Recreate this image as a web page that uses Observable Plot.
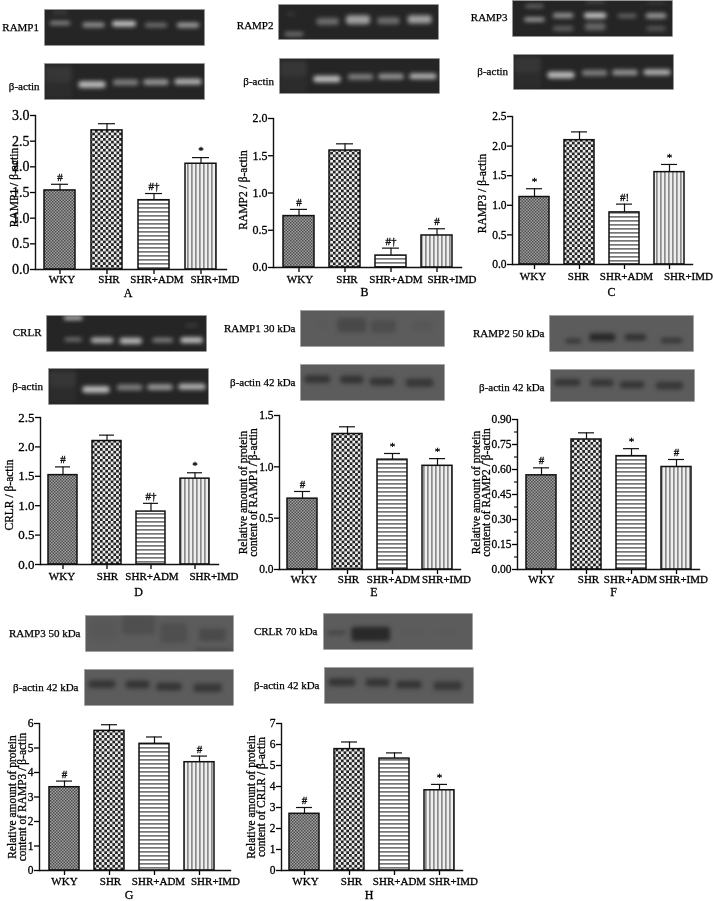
<!DOCTYPE html>
<html><head><meta charset="utf-8">
<script src="https://cdn.jsdelivr.net/npm/d3@7"></script>
<script src="https://cdn.jsdelivr.net/npm/@observablehq/plot@0.6"></script>
<style>
html,body{margin:0;background:#fff}
#page{position:relative;width:714px;height:901px;overflow:hidden;filter:blur(.4px)}
#page svg.chart,#page svg.blot{position:absolute;overflow:visible;background:none;pointer-events:none}
svg.blot g[aria-label="rect"]{filter:blur(2px)}
svg.blot g[aria-label="text"] text{stroke:#000;stroke-width:.25px}
svg.chart g[aria-label="text"] text,svg.chart g[aria-label="y-axis tick label"] text{stroke:#000;stroke-width:.3px}
</style></head><body>
<svg width="0" height="0" style="position:absolute"><defs>
<pattern id="wky" width="3" height="3" patternUnits="userSpaceOnUse"><rect width="3" height="3" fill="#a2a2a2"/><rect width="1.5" height="1.5" fill="#4c4c4c"/><rect x="1.5" y="1.5" width="1.5" height="1.5" fill="#4c4c4c"/></pattern>
<pattern id="shr" width="5.4" height="5.4" patternUnits="userSpaceOnUse"><rect width="5.4" height="5.4" fill="#eee"/><rect width="2.7" height="2.7" fill="#222"/><rect x="2.7" y="2.7" width="2.7" height="2.7" fill="#222"/></pattern>
<pattern id="adm" width="4" height="4" patternUnits="userSpaceOnUse"><rect width="4" height="4" fill="#fff"/><rect width="4" height="1.7" fill="#777"/></pattern>
<pattern id="imd" width="4" height="4" patternUnits="userSpaceOnUse"><rect width="4" height="4" fill="#eee"/><rect width="1.7" height="4" fill="#8c8c8c"/></pattern>
</defs></svg>
<div id="page"></div>
<script>
// ---------- data ----------
const groups = ["WKY","SHR","SHR+ADM","SHR+IMD"];
const fills = ["url(#wky)","url(#shr)","url(#adm)","url(#imd)"];

const valuesA = [1.54,2.71,1.35,2.06], errA = [1.66,2.84,1.48,2.18], marksA = ["#","","#†","*"];
const valuesB = [0.69,1.57,0.16,0.43], errB = [0.78,1.66,0.26,0.52], marksB = ["#","","#†","#"];
const valuesC = [1.14,2.10,0.88,1.56], errC = [1.28,2.24,1.02,1.69], marksC = ["*","","#!","*"];
const valuesD = [1.52,2.10,0.90,1.46], errD = [1.66,2.20,1.04,1.56], marksD = ["#","","#†","*"];
const valuesE = [0.69,1.32,1.07,1.01], errE = [0.76,1.39,1.13,1.08], marksE = ["#","","*","*"];
const valuesF = [0.565,0.78,0.68,0.615], errF = [0.61,0.82,0.725,0.66], marksF = ["#","","*","#"];
const valuesG = [3.40,5.70,5.17,4.42], errG = [3.65,5.95,5.45,4.67], marksG = ["#","","","#"];
const valuesH = [2.70,5.78,5.33,3.82], errH = [3.00,6.12,5.60,4.10], marksH = ["#","","","*"];

const ticksA = [0,0.5,1,1.5,2,2.5,3];
const ticksB = [0,0.5,1,1.5,2];
const ticksC = [0,0.5,1,1.5,2,2.5];
const ticksD = [0,0.5,1,1.5,2,2.5];
const ticksE = [0,0.5,1,1.5];
const ticksF = [0,0.15,0.30,0.45,0.60,0.75,0.90];
const minorF = [0.075,0.225,0.375,0.525,0.675,0.825];
const ticksG = [0,1,2,3,4,5,6];
const ticksH = [0,1,2,3,4,5,6,7];

// gel / blot bands: [lane centre, height, width, thickness, strength], fractions of the strip
const ramp1Gel = [[.10,.10,.10,.06,.25],[.10,.39,.13,.10,.7],[.31,.44,.14,.13,.7],[.50,.41,.15,.15,1],[.70,.45,.14,.12,.5],[.90,.45,.14,.13,.8]];
const ramp2Gel = [[.08,.28,.06,.08,.2],[.10,.86,.12,.12,.55],[.31,.50,.14,.20,.5],[.50,.45,.15,.26,.85],[.69,.48,.14,.20,.5],[.885,.44,.15,.24,.85]];
const ramp3Gel = [[.14,.17,.12,.07,.55],[.14,.54,.13,.10,.9],[.32,.43,.13,.12,.75],[.32,.79,.13,.14,.35],[.52,.43,.14,.15,1],[.52,.74,.13,.20,.4],[.52,.05,.13,.08,.25],[.72,.44,.12,.10,.45],[.90,.44,.13,.14,.75],[.90,.79,.12,.14,.3],[.90,.07,.12,.06,.2]];
const crlrGel = [[.17,.08,.12,.10,1],[.17,.68,.11,.10,.55],[.35,.70,.14,.15,.85],[.53,.72,.14,.17,.9],[.73,.70,.13,.12,.6],[.91,.70,.14,.16,.95],[.91,.29,.08,.07,.2]];
const actinGel = [[.09,.30,.17,.45,.12],[.09,.75,.17,.45,.05],[.30,.60,.17,.18,1],[.51,.54,.16,.16,.6],[.70,.53,.16,.16,.75],[.90,.52,.17,.16,.95]];
const ramp1Blot = [[.16,.42,.05,.10,.1],[.36,.42,.20,.40,.4],[.58,.46,.17,.35,.3],[.85,.45,.14,.25,.1]];
const ramp2Blot = [[.17,.72,.11,.14,.7],[.37,.62,.18,.22,1],[.60,.62,.15,.18,.85],[.85,.71,.15,.14,.75]];
const ramp3Blot = [[.12,.40,.20,.50,.1],[.36,.27,.22,.55,.3],[.60,.50,.18,.55,.3],[.86,.55,.18,.35,.4],[.87,.98,.26,.04,1]];
const crlrBlot = [[.09,.55,.13,.08,.6],[.32,.58,.26,.40,1],[.60,.52,.12,.05,.1],[.83,.52,.14,.05,.08]];
const actinBlot = [[.12,.42,.18,.22,.8],[.36,.43,.16,.22,.8],[.57,.49,.17,.22,.8],[.83,.52,.19,.24,.75]];

// ---------- layout ----------
const charts = [
 {v:valuesA,e:errA,m:marksA,t:ticksA,fmt:".1f",ax:35,end:226,bar:[35,226],top:115,bot:269,ts:14,lab:["RAMP1 / β-actin"],ldx:-21,ldy:-5,xdy:5.5,xdx:[2,2,3,14],let:"A",ldX:-3,letY:19},
 {v:valuesB,e:errB,m:marksB,t:ticksB,fmt:".1f",ax:273,end:461,bar:[275,460],top:118,bot:267,ts:12,lab:["RAMP2 / β-actin"],ldx:-30,ldy:-3,xdy:8,xdx:[1,2,5,15],let:"B",ldX:-3,letY:20},
 {v:valuesC,e:errC,m:marksC,t:ticksC,fmt:".1f",ax:512,end:692,bar:[512,692],top:116,bot:264,ts:11.5,lab:["RAMP3 / β-actin"],ldx:-30,ldy:3,xdy:7.5,xdx:[-1.5,-1,2,19],let:"C",ldX:9,letY:23},
 {v:valuesD,e:errD,m:marksD,t:ticksD,fmt:".1f",ax:40,end:218,bar:[40,217],top:417,bot:564,ts:13,lab:["CRLR / β-actin"],ldx:-31,ldy:4,xdy:8,xdx:[-1,.5,1,19],let:"D",ldX:9,letY:23},
 {v:valuesE,e:errE,m:marksE,t:ticksE,fmt:".1f",ax:279,end:460,bar:[279,460],top:415,bot:569,ts:11.5,lab:["Relative amount of protein","content of RAMP1 / β-actin"],ldx:-31,ldy:0,xdy:5.5,xdx:[1.5,1,1,9],let:"E",ldX:4,letY:18},
 {v:valuesF,e:errF,m:marksF,t:ticksF,fmt:".2f",minor:minorF,ax:517,end:699,bar:[517,700],top:419,bot:569,ts:11.5,lab:["Relative amount of protein","content of RAMP2 / β-actin"],ldx:-36,ldy:-2,xdy:5.5,xdx:[0,2,-1,7],let:"F",ldX:5,letY:18},
 {v:valuesG,e:errG,m:marksG,t:ticksG,fmt:"d",ax:39,end:230,bar:[40,223],top:723,bot:870,ts:11.5,lab:["Relative amount of protein","content of RAMP3 / β-actin"],ldx:-22,ldy:0,xdy:6.5,xdx:[0,1,4,16],let:"G",ldX:-6,letY:20},
 {v:valuesH,e:errH,m:marksH,t:ticksH,fmt:"d",ax:281,end:462,bar:[281,462],top:723,bot:870,ts:11.5,lab:["Relative amount of protein","content of CRLR / β-actin"],ldx:-25,ldy:0,xdy:6.5,xdx:[1,2,5,14],let:"H",ldX:-3,letY:20}
];
const gelBg = "#252525", blotBg = "#5c5c5c";
const gelInk = "#e4e4e4", blotInk = "#262626";
const strips = [
 {b:ramp1Gel,x:44,y:9,w:160,h:36,bg:gelBg,ink:gelInk,gain:.85,lab:"RAMP1",gap:5.5,dy:0},
 {b:actinGel,x:44,y:63,w:160,h:36,bg:gelBg,ink:gelInk,gain:.8,lab:"β-actin",gap:5,dy:5},
 {b:ramp2Gel,x:278,y:4,w:160,h:35,bg:gelBg,ink:gelInk,gain:.75,lab:"RAMP2",gap:5,dy:3},
 {b:actinGel,x:279,y:58,w:160,h:35,bg:gelBg,ink:gelInk,gain:.8,lab:"β-actin",gap:5.5,dy:5},
 {b:ramp3Gel,x:512,y:0,w:160,h:36,bg:gelBg,ink:gelInk,gain:.85,lab:"RAMP3",gap:5,dy:-1},
 {b:actinGel,x:512.5,y:54,w:160,h:35,bg:gelBg,ink:gelInk,gain:.8,lab:"β-actin",gap:5.5,dy:-.5},
 {b:crlrGel,x:46,y:315,w:160,h:36,bg:gelBg,ink:gelInk,gain:.85,lab:"CRLR",gap:5,dy:-1},
 {b:actinGel,x:47.5,y:368,w:160,h:36,bg:gelBg,ink:gelInk,gain:.8,lab:"β-actin",gap:5.5,dy:0},
 {b:ramp1Blot,x:300,y:310,w:144,h:36,bg:blotBg,ink:blotInk,gain:.9,lab:"RAMP1 30 kDa",gap:5,dy:0},
 {b:actinBlot,x:300,y:364,w:144,h:36,bg:blotBg,ink:blotInk,gain:.9,lab:"β-actin 42 kDa",gap:5,dy:0},
 {b:ramp2Blot,x:549,y:315,w:144,h:36,bg:blotBg,ink:blotInk,gain:.95,lab:"RAMP2 50 kDa",gap:5,dy:0},
 {b:actinBlot,x:550,y:369,w:144,h:32,bg:blotBg,ink:blotInk,gain:.9,lab:"β-actin 42 kDa",gap:6,dy:2},
 {b:ramp3Blot,x:85,y:615,w:148,h:36,bg:blotBg,ink:blotInk,gain:.8,lab:"RAMP3 50 kDa",gap:5,dy:0},
 {b:actinBlot,x:84,y:669,w:149,h:36,bg:blotBg,ink:blotInk,gain:.9,lab:"β-actin 42 kDa",gap:6,dy:0},
 {b:crlrBlot,x:323,y:613,w:149,h:36,bg:blotBg,ink:blotInk,gain:.95,lab:"CRLR 70 kDa",gap:6,dy:0},
 {b:actinBlot,x:324,y:667,w:149,h:36,bg:blotBg,ink:blotInk,gain:.9,lab:"β-actin 42 kDa",gap:5,dy:0}
];
const serif = "'Liberation Serif','Times New Roman',serif";
const page = document.getElementById("page");

function place(svg, cls, left, top){
  svg.classList.add(cls);
  svg.style.left = left + "px"; svg.style.top = top + "px";
  page.appendChild(svg);
}

for (const s of strips) {
  const mL = 110, mR = 2;
  const svg = Plot.plot({
    width: mL + s.w + mR, height: s.h,
    marginLeft: mL, marginRight: mR, marginTop: 0, marginBottom: 0,
    style: {fontFamily: serif, fontSize: "11px", color: "#000", background: "none"},
    x: {domain: [0,1], axis: null}, y: {domain: [1,0], axis: null},
    opacity: {type: "identity"},
    marks: [
      Plot.frame({fill: s.bg, stroke: "#999", strokeWidth: .5}),
      Plot.rect(s.b, {x1: d => d[0]-d[2]/2, x2: d => d[0]+d[2]/2, y1: d => d[1]-d[3]/2, y2: d => d[1]+d[3]/2,
        fill: s.ink, fillOpacity: d => d[4]*s.gain, rx: 3, clip: "frame"}),
      Plot.text([s.lab], {text: d => d, frameAnchor: "left", textAnchor: "end", dx: -s.gap, dy: s.dy, fill: "#000"})
    ]
  });
  place(svg, "blot", s.x - mL, s.y);
}

for (const c of charts) {
  const rows = groups.map((g,i) => ({g, v:c.v[i], e:c.e[i], m:c.m[i], fill:fills[i]}));
  const mL = 40, mR = 45, mB = 32, mT = 4;
  const w = mL + (c.end - c.ax) + mR, h = (c.bot - c.top) + mT + mB;
  const svg = Plot.plot({
    width: w, height: h, marginLeft: mL, marginRight: mR, marginTop: mT, marginBottom: mB,
    style: {fontFamily: serif, fontSize: "11px", color: "#000", background: "none"},
    x: {domain: groups, range: [mL + c.bar[0]-c.ax, mL + c.bar[1]-c.ax], paddingInner: .33, paddingOuter: .165, label: null, axis: null},
    y: {domain: [c.t[0], c.t[c.t.length-1]], label: null, axis: null},
    color: {type: "identity"},
    marks: [
      Plot.barY(rows, {x: "g", y: "v", fill: "fill", stroke: "#111", strokeWidth: 1.5}),
      Plot.ruleX(rows, {x: "g", y1: "v", y2: "e", stroke: "#111", strokeWidth: 1.2}),
      Plot.tickY(rows, {x: "g", y: "e", stroke: "#111", strokeWidth: 1.2, insetLeft: 7, insetRight: 7}),
      Plot.text(rows, {x: "g", y: "e", text: "m", dy: -7, fontSize: 11, fill: "#000"}),
      c.minor ? Plot.axisY({ticks: c.minor, tickFormat: () => "", tickSize: 3, strokeWidth: 1.1, label: null}) : null,
      Plot.axisY({ticks: c.t, tickFormat: c.fmt, tickSize: 5, tickPadding: 1, fontSize: c.ts, strokeWidth: 1.3, label: null}),
      Plot.axisX({tickFormat: null, tickSize: 5, strokeWidth: 1.3, label: null}),
      Plot.frame({anchor: "left", strokeWidth: 1.4, stroke: "#111"}),
      Plot.frame({anchor: "bottom", strokeWidth: 1.4, stroke: "#111"}),
      ...groups.map((g,i) => Plot.text([g], {x: d => d, text: d => d, frameAnchor: "bottom", lineAnchor: "top",
        dy: c.xdy, dx: c.xdx[i], fontSize: 11, fill: "#000"})),
      Plot.text([c.let], {text: d => d, frameAnchor: "bottom", lineAnchor: "top", dx: c.ldX, dy: c.letY, fontSize: 12, fill: "#000"}),
      Plot.text([c.lab.join("\n")], {text: d => d, frameAnchor: "left", textAnchor: "middle", rotate: -90, dx: c.ldx, dy: c.ldy, fontSize: 11.5, lineHeight: .92, fill: "#000"})
    ]
  });
  place(svg, "chart", c.ax - mL, c.top - mT);
}
</script>
</body></html>
